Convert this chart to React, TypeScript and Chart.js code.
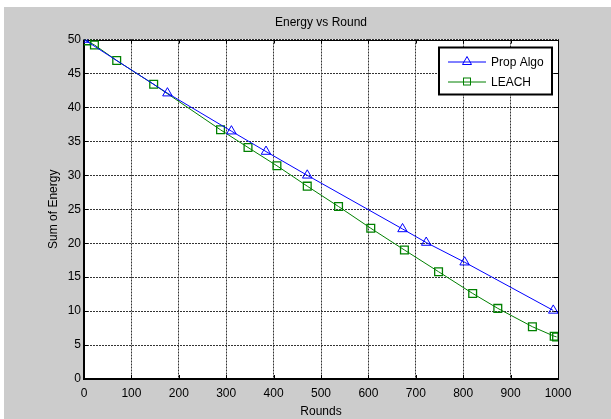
import React, { useEffect, useRef } from 'react';
import { Chart, registerables } from 'chart.js';

Chart.register(...registerables);

const chartTitle = 'Energy vs Round';
const xLabel = 'Rounds';
const yLabel = 'Sum of Energy';

const propName = 'Prop Algo';
const propRounds = [0, 176, 311, 384, 471, 672, 722, 803, 990];
const propEnergy = [50, 42.1, 36.5, 33.5, 30.0, 22.1, 20.1, 17.2, 10.1];

const leachName = 'LEACH';
const leachRounds = [0, 6, 22, 69, 147, 288, 346, 407, 471, 537, 605, 676, 748, 820, 873, 946, 992, 997];
const leachEnergy = [50, 49.8, 49.2, 46.9, 43.4, 36.7, 34.1, 31.4, 28.4, 25.4, 22.2, 19.0, 15.8, 12.6, 10.4, 7.7, 6.3, 6.2];
const leachMarkerShown = leachRounds.map((r) => r !== 0);

const xMin = 0, xMax = 1000, xStep = 100;
const yMin = 0, yMax = 50, yStep = 5;

const FONT = 'Liberation Sans, Arial, Helvetica, sans-serif';
const BLUE = '#0000ff';
const GREEN = '#008000';

function drawTri(ctx: CanvasRenderingContext2D, x: number, y: number, r: number) {
  ctx.beginPath();
  ctx.moveTo(x, y - r);
  ctx.lineTo(x + r * 0.9, y + r * 0.6);
  ctx.lineTo(x - r * 0.9, y + r * 0.6);
  ctx.closePath();
  ctx.stroke();
}

const matlabPlugin = {
  id: 'matlabLook',
  beforeDraw(chart: any) {
    const { ctx, chartArea: a } = chart;
    ctx.save();
    ctx.fillStyle = '#ffffff';
    ctx.fillRect(a.left, a.top, a.right - a.left, a.bottom - a.top);
    ctx.fillStyle = '#000';
    ctx.font = `12px ${FONT}`;
    ctx.textAlign = 'center';
    ctx.textBaseline = 'middle';
    ctx.fillText(chartTitle, (a.left + a.right) / 2, 16);
    ctx.restore();
  },
  beforeDatasetsDraw(chart: any) {
    const { ctx, chartArea: a, scales } = chart;
    ctx.save();
    ctx.strokeStyle = '#000';
    ctx.lineWidth = 1;
    const line = (x1: number, y1: number, x2: number, y2: number) => {
      ctx.beginPath();
      ctx.moveTo(x1, y1);
      ctx.lineTo(x2, y2);
      ctx.stroke();
    };
    scales.x.ticks.forEach((t: any) => {
      const px = Math.round(scales.x.getPixelForValue(t.value)) + 0.5;
      line(px, a.bottom, px, a.bottom - 4);
      line(px, a.top, px, a.top + 4);
    });
    scales.y.ticks.forEach((t: any) => {
      const py = Math.round(scales.y.getPixelForValue(t.value)) + 0.5;
      line(a.left, py, a.left + 4, py);
      line(a.right, py, a.right - 4, py);
    });
    line(a.left, Math.round(a.top) + 0.5, a.right, Math.round(a.top) + 0.5);
    line(Math.round(a.right) + 0.5, a.top, Math.round(a.right) + 0.5, a.bottom);
    ctx.lineWidth = 2;
    line(a.left, a.top, a.left, a.bottom + 1);
    line(a.left - 1, a.bottom, a.right + 1, a.bottom);
    ctx.restore();
  },
  afterDraw(chart: any) {
    const { ctx, chartArea: a } = chart;
    const bx = a.right - 119, by = a.top + 8, bw = 113, bh = 47;
    ctx.save();
    ctx.fillStyle = '#fff';
    ctx.fillRect(bx, by, bw, bh);
    ctx.strokeStyle = '#000';
    ctx.lineWidth = 2;
    ctx.strokeRect(bx, by, bw, bh);
    const rows = [
      { name: propName, color: BLUE, marker: 'tri' },
      { name: leachName, color: GREEN, marker: 'sq' },
    ];
    rows.forEach((r, i) => {
      const y = by + 14 + i * 20;
      ctx.strokeStyle = r.color;
      ctx.lineWidth = 1;
      ctx.beginPath();
      ctx.moveTo(bx + 9, y + 0.5);
      ctx.lineTo(bx + 47, y + 0.5);
      ctx.stroke();
      const cx = bx + 28;
      if (r.marker === 'tri') drawTri(ctx, cx, y, 5);
      else ctx.strokeRect(cx - 3.5, y - 3.5, 7, 7);
      ctx.fillStyle = '#000';
      ctx.font = `12px ${FONT}`;
      ctx.textBaseline = 'middle';
      ctx.textAlign = 'left';
      ctx.fillText(r.name, bx + 52, y + 1);
    });
    ctx.restore();
  },
};

export default function App() {
  const ref = useRef<HTMLCanvasElement | null>(null);
  useEffect(() => {
    if (!ref.current) return;
    const chart = new Chart(ref.current, {
      type: 'line',
      data: {
        datasets: [
          {
            label: propName,
            data: propRounds.map((x, i) => ({ x, y: propEnergy[i] })),
            borderColor: BLUE,
            borderWidth: 1,
            pointStyle: 'triangle',
            pointRadius: 5.5,
            pointBorderColor: BLUE,
            pointBackgroundColor: 'rgba(0,0,0,0)',
            pointBorderWidth: 1,
            tension: 0,
          },
          {
            label: leachName,
            data: leachRounds.map((x, i) => ({ x, y: leachEnergy[i] })),
            borderColor: GREEN,
            borderWidth: 1,
            pointStyle: 'rect',
            pointRadius: leachMarkerShown.map((s) => (s ? 5.5 : 0)),
            pointBorderColor: GREEN,
            pointBackgroundColor: 'rgba(0,0,0,0)',
            pointBorderWidth: 1.3,
            tension: 0,
          },
        ],
      },
      options: {
        responsive: false,
        animation: false,
        events: [],
        layout: { padding: { top: 32.5, right: 53, bottom: 0, left: 0 } },
        plugins: {
          legend: { display: false },
          tooltip: { enabled: false },
          title: { display: false },
        },
        scales: {
          x: {
            type: 'linear',
            min: xMin,
            max: xMax,
            afterFit: (s: any) => { s.height = 40; },
            ticks: {
              stepSize: xStep,
              color: '#000',
              font: { family: FONT, size: 12 },
              padding: 7,
              maxRotation: 0,
              callback: (v: any) => String(v),
            },
            grid: { color: '#333', lineWidth: 1, drawTicks: false },
            border: { display: false, dash: [2, 1] },
            title: {
              display: true,
              text: xLabel,
              color: '#000',
              font: { family: FONT, size: 12 },
              padding: { top: 0, bottom: 0 },
            },
          },
          y: {
            type: 'linear',
            min: yMin,
            max: yMax,
            afterFit: (s: any) => { s.width = 80; },
            ticks: {
              stepSize: yStep,
              color: '#000',
              font: { family: FONT, size: 12 },
              padding: 3,
              callback: (v: any) => String(v),
            },
            grid: { color: '#333', lineWidth: 1, drawTicks: false },
            border: { display: false, dash: [2, 1] },
            title: {
              display: true,
              text: yLabel,
              color: '#000',
              font: { family: FONT, size: 12 },
              padding: { top: 42, bottom: 0 },
            },
          },
        },
      },
      plugins: [matlabPlugin],
    } as any);
    return () => chart.destroy();
  }, []);
  return (
    <div style={{ position: 'fixed', left: 4, top: 7, width: 607, height: 412, background: '#cccccc' }}>
      <canvas ref={ref} width={607} height={412} style={{ display: 'block' }} />
    </div>
  );
}
